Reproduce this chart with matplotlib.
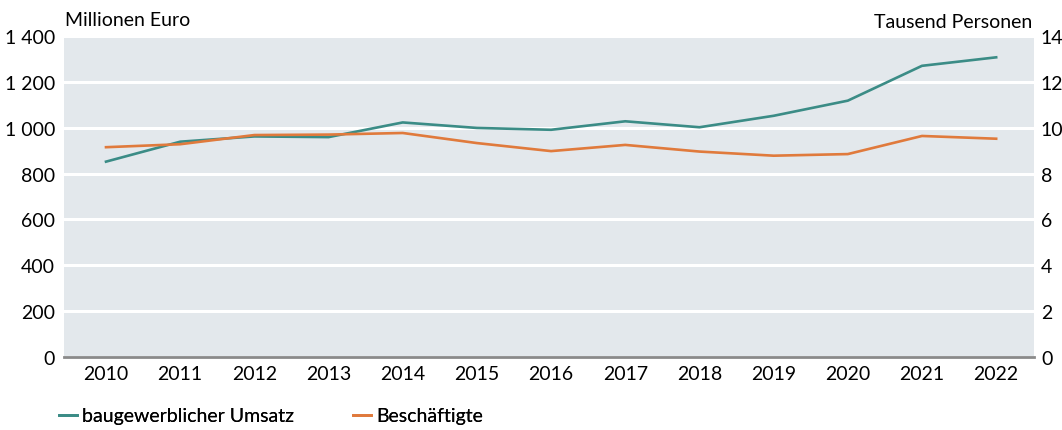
import matplotlib
matplotlib.use("Agg")
import matplotlib.pyplot as plt
from matplotlib.lines import Line2D

years = ["2010", "2011", "2012", "2013", "2014", "2015", "2016", "2017", "2018", "2019", "2020", "2021", "2022"]
umsatz = [852, 939, 962, 959, 1023, 999, 991, 1028, 1002, 1052, 1118, 1270, 1307]
beschaeftigte = [9.15, 9.28, 9.68, 9.70, 9.77, 9.33, 8.98, 9.25, 8.96, 8.78, 8.85, 9.64, 9.52]
left_ticks = [0, 200, 400, 600, 800, 1000, 1200, 1400]
left_labels = ["0", "200", "400", "600", "800", "1 000", "1 200", "1 400"]
right_ticks = [0, 2, 4, 6, 8, 10, 12, 14]
series_names = ["baugewerblicher Umsatz", "Beschäftigte"]

plt.rcParams['font.family'] = ['Lato', 'DejaVu Sans']
FS = 14
teal = "#3b8c86"
orange = "#e07a3c"
bg = "#e3e8ec"

W, H = 1062, 431
fig = plt.figure(figsize=(W / 100, H / 100), dpi=100)
ax = fig.add_axes([63.5 / W, (H - 358) / H, (1034 - 63.5) / W, (358 - 37) / H])
ax.set_facecolor(bg)
x = list(range(len(years)))
ax.plot(x, umsatz, color=teal, lw=1.9, zorder=3)
ax.set_xlim(-0.573, len(years) - 1 + 0.51)
ax.set_ylim(0, 1400)
ax.set_yticks(left_ticks)
ax.set_yticklabels(left_labels, fontsize=FS)
ax.set_xticks(x)
ax.set_xticklabels(years, fontsize=FS)
ax.grid(axis='y', color='white', lw=2.2, zorder=1)
ax.set_axisbelow(True)
for s in ['top', 'right', 'left']:
    ax.spines[s].set_visible(False)
ax.spines['bottom'].set_color('#8a8a8a')
ax.spines['bottom'].set_linewidth(2)
ax.spines['bottom'].set_zorder(4)
ax.tick_params(axis='y', length=0, pad=6)
ax.tick_params(axis='x', length=0, pad=6)

ax2 = ax.twinx()
ax2.plot(x, beschaeftigte, color=orange, lw=1.9, zorder=3)
ax2.set_ylim(0, 14)
ax2.set_yticks(right_ticks)
ax2.set_yticklabels([str(t) for t in right_ticks], fontsize=FS)
for s in ['top', 'right', 'left', 'bottom']:
    ax2.spines[s].set_visible(False)
ax2.tick_params(axis='y', length=0, pad=5)

fig.text(65 / W, 1 - 20 / H, "Millionen Euro", fontsize=FS, ha='left', va='center')
fig.text(1032 / W, 1 - 23 / H, "Tausend Personen", fontsize=FS, ha='right', va='center')

for color, name, xpos in [(teal, series_names[0], 59), (orange, series_names[1], 353)]:
    leg = fig.legend([Line2D([0], [0], color=color, lw=2)], [name], loc='center left',
                     bbox_to_anchor=(xpos / W, 1 - 417 / H), frameon=False, fontsize=FS,
                     handlelength=0.93, handletextpad=0.27, borderaxespad=0, borderpad=0)
    fig.add_artist(leg)

fig.savefig("out.png", dpi=100)
